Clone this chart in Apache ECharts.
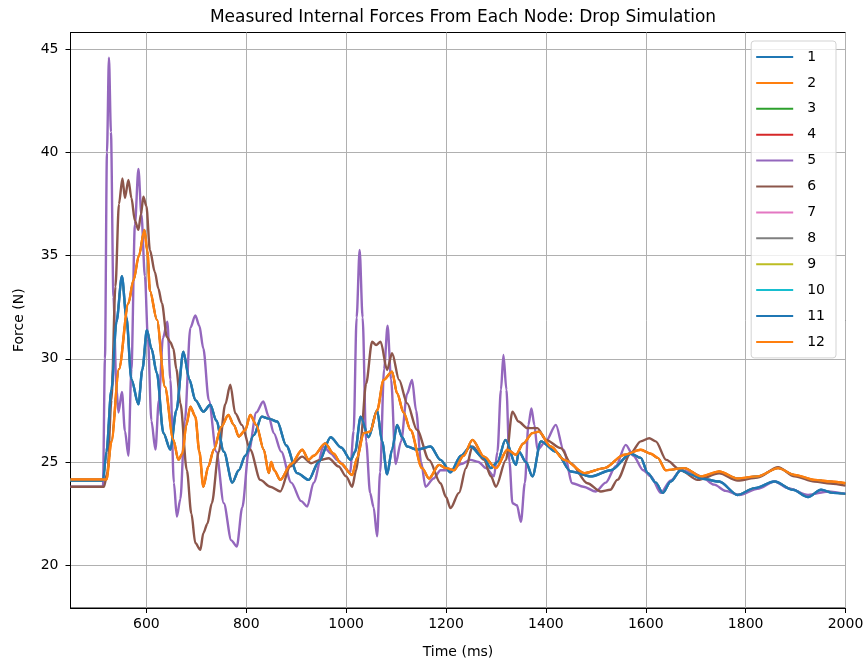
<!DOCTYPE html>
<html>
<head>
<meta charset="utf-8">
<script src="https://cdn.jsdelivr.net/npm/echarts@6/dist/echarts.min.js"></script>
<style>
  html, body { margin: 0; padding: 0; background: #fff; }
  #main { width: 868px; height: 668px; }
</style>
</head>
<body>
<div id="main"></div>
<script>
// node names for the legend
let nodeNames = ['1', '2', '3', '4', '5', '6', '7', '8', '9', '10', '11', '12'];
let colors = ['#1f77b4', '#ff7f0e', '#2ca02c', '#d62728', '#9467bd', '#8c564b',
              '#e377c2', '#7f7f7f', '#bcbd22', '#17becf', '#1f77b4', '#ff7f0e'];

// [time ms, force N], one array per distinct curve
let forceBlue = [
  [448,24.1],[513,24.1],[520,25.5],[530,28.5],[540,31.8],[551,34.0],[560,32.0],[570,29.0],[584,27.8],[592,29.5],
  [601,31.4],[610,30.5],[621,29.3],[634,26.4],[648,25.6],[660,27.5],[674,30.35],[686,29.0],[698,28.0],[714,27.44],
  [728,27.77],[740,27.0],[755,25.5],[772,24.0],[785,24.6],[798,25.3],[815,26.3],[831,27.2],[845,27.1],[862,26.96],
  [880,25.8],[902,24.46],[925,24.13],[945,25.0],[969,26.2],[990,25.7],[1009,25.1],[1018,25.5],[1029,27.2],[1045,26.2],
  [1062,27.5],[1072,26.0],[1082,24.4],[1092,25.6],[1102,26.8],[1112,26.2],[1122,25.75],[1142,25.6],[1169,25.75],[1189,25.1],
  [1209,24.5],[1230,25.3],[1249,25.75],[1275,25.2],[1290,24.7],[1303,25.0],[1319,26.07],[1340,24.86],[1346,25.5],[1360,25.0],
  [1373,24.3],[1390,26.0],[1420,25.5],[1450,24.54],[1490,24.3],[1530,24.6],[1570,25.4],[1590,25.2],[1604,24.46],[1620,24.0],
  [1634,23.5],[1650,24.05],[1670,24.6],[1690,24.4],[1711,24.2],[1747,24.05],[1784,23.4],[1818,23.73],[1858,24.05],[1895,23.65],
  [1925,23.3],[1951,23.65],[1975,23.5],[2000,23.45]
];
let forceOrange = [
  [448,24.15],[520,24.15],[530,26.0],[545,29.5],[564,32.7],[574,33.8],[585,35.0],[596,36.25],[602,35.2],[607,33.3],
  [621,31.9],[637,28.65],[654,26.07],[664,25.1],[672,25.4],[680,26.8],[688,27.68],[698,27.2],[706,25.5],[714,23.8],
  [724,24.78],[735,25.6],[750,26.7],[764,27.28],[775,26.8],[785,26.23],[798,26.55],[808,27.28],[820,26.8],[835,25.6],
  [845,24.46],[850,25.0],[856,24.6],[868,24.13],[890,24.9],[912,25.59],[925,25.1],[935,25.3],[958,25.9],[975,25.4],
  [989,24.94],[1012,24.37],[1022,25.2],[1035,26.4],[1048,26.47],[1062,27.5],[1075,28.98],[1092,29.38],[1102,28.33],[1115,27.4],
  [1129,26.55],[1152,24.7],[1166,24.2],[1186,24.86],[1200,24.7],[1216,24.6],[1235,25.3],[1253,26.07],[1276,25.26],[1300,24.7],
  [1323,25.59],[1340,25.35],[1355,25.9],[1373,26.4],[1386,26.47],[1410,25.75],[1437,25.1],[1477,24.46],[1517,24.7],[1557,25.35],
  [1590,25.59],[1610,25.4],[1624,25.2],[1640,24.6],[1677,24.7],[1711,24.3],[1747,24.54],[1784,24.2],[1824,24.3],[1865,24.7],
  [1898,24.37],[1938,24.13],[1970,24.05],[2000,23.97]
];
let forcePurple = [
  [448,23.8],[513,23.8],[517,30.0],[521,40.0],[525,44.6],[529,41.0],[534,33.0],[540,28.6],[544,27.4],[551,28.4],
  [557,26.5],[564,25.3],[570,29.5],[577,36.5],[584,39.2],[590,37.0],[597,34.0],[603,31.0],[610,27.0],[618,25.6],
  [625,28.0],[633,31.0],[642,31.8],[648,29.0],[655,24.0],[661,22.35],[668,23.2],[677,27.0],[688,31.5],[698,32.1],
  [706,31.6],[714,30.5],[725,28.0],[740,25.5],[755,23.0],[770,21.2],[781,20.9],[792,22.8],[805,25.5],[820,27.4],
  [834,27.93],[845,27.2],[855,26.4],[870,25.5],[890,24.0],[910,23.1],[922,22.84],[935,24.0],[955,25.75],[970,25.4],
  [982,25.1],[1008,24.5],[1015,26.5],[1021,32.0],[1027,35.28],[1033,32.0],[1040,26.0],[1048,23.5],[1055,22.8],[1062,21.4],
  [1068,24.5],[1076,29.5],[1083,31.6],[1090,29.0],[1099,24.9],[1110,26.0],[1122,28.3],[1132,28.98],[1140,27.5],[1150,25.0],
  [1159,23.8],[1175,24.2],[1189,24.6],[1210,24.6],[1230,24.9],[1249,25.1],[1265,25.0],[1280,24.7],[1296,24.3],[1303,25.5],
  [1310,28.5],[1315,30.19],[1321,28.5],[1327,25.0],[1333,23.0],[1342,22.9],[1350,22.1],[1358,24.0],[1365,26.8],[1371,27.6],
  [1377,26.8],[1383,25.6],[1400,26.0],[1420,26.8],[1435,25.6],[1453,23.97],[1475,23.8],[1500,23.57],[1520,24.0],[1540,24.8],
  [1560,25.83],[1575,25.3],[1595,24.6],[1610,24.3],[1630,23.5],[1650,24.1],[1670,24.6],[1690,24.5],[1711,24.3],[1737,23.9],
  [1760,23.6],[1787,23.4],[1824,23.7],[1858,24.05],[1885,23.73],[1925,23.4],[1965,23.57],[2000,23.45]
];
let forceBrown = [
  [448,23.8],[515,23.8],[522,24.5],[530,28.0],[538,33.5],[545,37.5],[552,38.75],[557,37.8],[564,38.67],[570,37.8],
  [577,36.7],[584,36.25],[589,37.0],[594,37.86],[600,37.4],[607,35.28],[617,34.2],[624,33.4],[631,32.7],[641,31.07],
  [648,30.8],[654,30.5],[660,29.5],[668,27.85],[681,24.6],[690,22.5],[698,21.07],[708,20.74],[714,21.55],[722,22.0],
  [731,23.0],[745,25.5],[758,27.8],[768,28.74],[778,27.36],[791,26.8],[808,25.59],[828,24.13],[848,23.8],[868,23.57],
  [888,24.78],[912,25.26],[930,24.94],[948,25.1],[965,25.18],[985,24.78],[1000,24.3],[1012,23.8],[1020,24.6],[1029,26.07],
  [1040,28.8],[1052,30.83],[1060,30.67],[1069,30.83],[1082,29.46],[1092,30.27],[1106,28.98],[1122,27.85],[1142,26.55],[1166,25.1],
  [1189,23.97],[1200,23.3],[1209,22.76],[1226,23.5],[1240,24.7],[1253,25.75],[1276,25.1],[1290,24.3],[1300,23.8],[1320,25.1],
  [1333,27.44],[1345,26.96],[1363,26.64],[1383,26.64],[1400,26.07],[1430,25.67],[1450,24.94],[1483,23.97],[1510,23.57],[1529,23.65],
  [1543,24.13],[1570,25.43],[1590,26.0],[1607,26.15],[1620,26.0],[1641,25.1],[1670,24.6],[1704,24.13],[1747,24.45],[1784,24.1],
  [1824,24.25],[1865,24.75],[1898,24.3],[1938,24.05],[1970,23.95],[2000,23.85]
];

// which curve each node follows (hidden nodes lie under later ones)
let nodeCurves = [forceBlue, forceOrange, forceBlue, forceOrange, forcePurple, forceBrown,
                  forceBlue, forceOrange, forceBlue, forceOrange, forceBlue, forceOrange];
let xTicks = [600, 800, 1000, 1200, 1400, 1600, 1800, 2000];
let yTicks = [20, 25, 30, 35, 40, 45];

let font = 'DejaVu Sans';
let myChart = echarts.init(document.getElementById('main'));

let series = nodeNames.map(function (name, i) {
    // nodes that sit under a later identical curve are drawn a bit thinner
    let hidden = [2, 3, 6, 7, 8, 9].indexOf(i) >= 0;
    return {
        name: name,
        type: 'line',
        data: nodeCurves[i],
        symbol: 'none',
        smooth: 0.3,
        smoothMonotone: 'x',
        color: colors[i],
        itemStyle: { color: colors[i] },
        lineStyle: { width: hidden ? 1.6 : 2.4, color: colors[i] },
        animation: false
    };
});

let option = {
    animation: false,
    backgroundColor: '#fff',
    title: {
        text: 'Measured Internal Forces From Each Node: Drop Simulation',
        left: 458,
        textAlign: 'center',
        top: 4,
        textStyle: { fontFamily: font, fontSize: 17, fontWeight: 'normal', color: '#000' }
    },
    grid: {
        left: 70.5, right: 22.5, top: 32.5, bottom: 60,
        show: true, borderColor: '#000', borderWidth: 1, backgroundColor: 'transparent'
    },
    legend: {
        orient: 'vertical',
        right: 32,
        top: 41,
        icon: 'rect',
        itemWidth: 37,
        itemHeight: 2,
        itemGap: 9.9,
        padding: [8, 11, 8, 5],
        backgroundColor: 'rgba(255,255,255,0.8)',
        borderColor: '#d3d3d3',
        borderWidth: 1,
        borderRadius: 3,
        textStyle: { fontFamily: font, fontSize: 14, color: '#000', padding: [0, 0, 0, 9], lineHeight: 16 },
        data: nodeNames
    },
    xAxis: {
        type: 'value',
        min: 448,
        max: 2000,
        splitNumber: 8,
        name: 'Time (ms)',
        nameLocation: 'middle',
        nameGap: 37,
        nameTextStyle: { fontFamily: font, fontSize: 14, color: '#000' },
        axisLine: { show: true, lineStyle: { color: '#000', width: 1 } },
        axisTick: { show: true, inside: false, length: 5, lineStyle: { color: '#000' }, customValues: xTicks },
        axisLabel: {
            fontFamily: font, fontSize: 14, color: '#000', margin: 9, customValues: xTicks,
            formatter: function (v) { return v % 200 === 0 ? String(v) : ''; }
        },
        splitLine: { show: true, lineStyle: { color: '#b0b0b0', width: 1 } }
    },
    yAxis: {
        type: 'value',
        min: 17.92,
        max: 45.82,
        name: 'Force (N)',
        nameLocation: 'middle',
        nameGap: 44,
        nameTextStyle: { fontFamily: font, fontSize: 14, color: '#000' },
        axisLine: { show: true, lineStyle: { color: '#000', width: 1 } },
        axisTick: { show: true, inside: false, length: 5, lineStyle: { color: '#000' }, customValues: yTicks },
        axisLabel: {
            fontFamily: font, fontSize: 14, color: '#000', margin: 12, customValues: yTicks,
            formatter: function (v) { return v % 5 === 0 ? String(v) : ''; }
        },
        splitLine: { show: true, lineStyle: { color: '#b0b0b0', width: 1 } }
    },
    series: series
};
myChart.setOption(option);
</script>
</body>
</html>
